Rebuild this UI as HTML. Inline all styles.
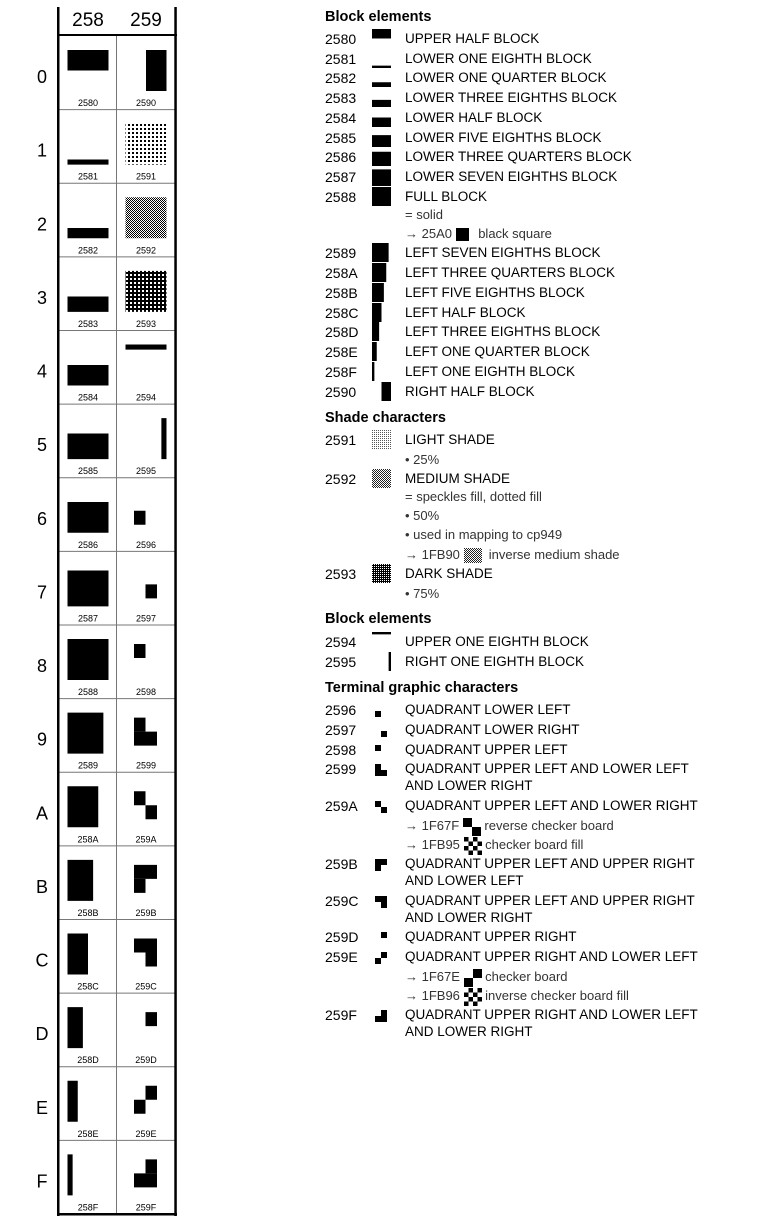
<!DOCTYPE html>
<html><head><meta charset="utf-8">
<style>
html,body{margin:0;padding:0;background:#fff;}
body{width:760px;height:1229px;position:relative;overflow:hidden;font-family:"Liberation Sans",Arial,sans-serif;color:#000;}
.t{position:absolute;white-space:nowrap;line-height:18px;height:18px;}
.code{font-size:14px;left:325px;}
.name{font-size:13.5px;left:405px;}
.sub{font-size:13px;left:405px;color:#333;}
.hd{font-size:14.5px;font-weight:bold;left:325px;}
.ib{display:inline-block;vertical-align:middle;margin:-5px 0 -5px 0;}
svg{position:absolute;left:0;top:0;}
</style></head>
<body>
<svg id="g" width="760" height="1229">
<defs>
<pattern id="p25" width="4" height="4" patternUnits="userSpaceOnUse"><rect width="2" height="2" fill="#000"/></pattern>
<pattern id="p50" width="2" height="2" patternUnits="userSpaceOnUse"><rect width="1" height="1" fill="#000"/><rect x="1" y="1" width="1" height="1" fill="#000"/></pattern>
<pattern id="p75" width="4" height="4" patternUnits="userSpaceOnUse"><rect width="4" height="4" fill="#000"/><rect x="2" y="2" width="2" height="2" fill="#fff"/></pattern>
<pattern id="s25" width="2" height="2" patternUnits="userSpaceOnUse"><rect width="1" height="1" fill="#555"/></pattern>
<pattern id="s50" width="2" height="2" patternUnits="userSpaceOnUse"><rect width="1" height="1" fill="#222"/><rect x="1" y="1" width="1" height="1" fill="#222"/></pattern>
<pattern id="s75" width="2" height="2" patternUnits="userSpaceOnUse"><rect width="2" height="2" fill="#000"/><rect width="1" height="1" fill="#fff"/></pattern>
</defs>
</svg>
<script>
const rowLabels=["0","1","2","3","4","5","6","7","8","9","A","B","C","D","E","F"];
const colLabels=["258","259"];
const UL=[0,0,4,4],UR=[4,0,8,4],LL=[0,4,4,8],LR=[4,4,8,8];
const glyphs={
"2580":[[0,0,8,4]],"2581":[[0,7,8,8]],"2582":[[0,6,8,8]],"2583":[[0,5,8,8]],"2584":[[0,4,8,8]],
"2585":[[0,3,8,8]],"2586":[[0,2,8,8]],"2587":[[0,1,8,8]],"2588":[[0,0,8,8]],"2589":[[0,0,7,8]],
"258A":[[0,0,6,8]],"258B":[[0,0,5,8]],"258C":[[0,0,4,8]],"258D":[[0,0,3,8]],"258E":[[0,0,2,8]],
"258F":[[0,0,1,8]],"2590":[[4,0,8,8]],"2594":[[0,0,8,1]],"2595":[[7,0,8,8]],
"2596":[LL],"2597":[LR],"2598":[UL],"2599":[UL,LL,LR],"259A":[UL,LR],"259B":[UL,UR,LL],
"259C":[UL,UR,LR],"259D":[UR],"259E":[UR,LL],"259F":[UR,LL,LR]};
const shades={"2591":"25","2592":"50","2593":"75"};
const NS="http://www.w3.org/2000/svg";
const svg=document.getElementById('g');
function R(x,y,w,h,fill,name){const r=document.createElementNS(NS,'rect');
r.setAttribute('x',x);r.setAttribute('y',y);r.setAttribute('width',w);r.setAttribute('height',h);r.setAttribute('fill',fill);


svg.appendChild(r);return r;}
function T(x,y,s,size,name){const t=document.createElementNS(NS,'text');
t.setAttribute('x',x);t.setAttribute('y',y);t.setAttribute('font-size',size);t.setAttribute('text-anchor','middle');
t.setAttribute('font-family','Liberation Sans, Arial, sans-serif');t.textContent=s;


svg.appendChild(t);}
function isQuad(c){return parseInt(c,16)>=0x2596;}
function drawGlyph(c,bx,by,bw,bh,qx,qy,qw,qh,pfx){
 if(shades[c]){R(bx,by,bw,bh,'url(#'+pfx+shades[c]+')','shade-'+c);return;}
 const q=isQuad(c);const X=q?qx:bx,Y=q?qy:by,W=q?qw:bw,H=q?qh:bh;
 glyphs[c].forEach(g=>R(X+g[0]*W/8,Y+g[1]*H/8,(g[2]-g[0])*W/8,(g[3]-g[1])*H/8,'#000','glyph-'+c));
}
const top0=36,rowH=(1214-36)/16,colX=[59,117];
for(let i=1;i<16;i++)R(59,top0+i*rowH-0.5,116,1,'#777','row-line');
R(116,36,1,1178,'#777','col-divider');
R(57,7,2.5,1209,'#000','left-border');
R(174.3,7,2.5,1209,'#000','right-border');
R(57,34,120,2,'#000','header-line');
R(57,1213,120,2.5,'#000','bottom-line');
colLabels.forEach((l,i)=>T(colX[i]+29,26,l,19,'column-header-'+l));
rowLabels.forEach((l,r)=>{
 const y=top0+r*rowH;
 T(42,y+47,l,18,'row-label-'+l);
 colLabels.forEach((cl,ci)=>{
  const code=cl+l,cx=colX[ci];
  drawGlyph(code,cx+8.5,y+14,41,41,cx+17,y+19,23,28,'p');
  T(cx+29,y+70,code,9,'cell-code-'+code);
 });
});
const lines=[
[17,"","hd","Block elements"],
[39,"2580","n","UPPER HALF BLOCK"],[59,"2581","n","LOWER ONE EIGHTH BLOCK"],[78,"2582","n","LOWER ONE QUARTER BLOCK"],
[98,"2583","n","LOWER THREE EIGHTHS BLOCK"],[118,"2584","n","LOWER HALF BLOCK"],[138,"2585","n","LOWER FIVE EIGHTHS BLOCK"],
[157,"2586","n","LOWER THREE QUARTERS BLOCK"],[177,"2587","n","LOWER SEVEN EIGHTHS BLOCK"],[197,"2588","n","FULL BLOCK"],
[215,"","s","= solid"],[234,"","s",'→ 25A0 <span class="ib" style="width:13px;height:13px;background:#000;margin:-3px 6px -3px 0"></span> black square'],
[253,"2589","n","LEFT SEVEN EIGHTHS BLOCK"],[273,"258A","n","LEFT THREE QUARTERS BLOCK"],[293,"258B","n","LEFT FIVE EIGHTHS BLOCK"],
[313,"258C","n","LEFT HALF BLOCK"],[332,"258D","n","LEFT THREE EIGHTHS BLOCK"],[352,"258E","n","LEFT ONE QUARTER BLOCK"],
[372,"258F","n","LEFT ONE EIGHTH BLOCK"],[392,"2590","n","RIGHT HALF BLOCK"],
[418,"","hd","Shade characters"],
[440,"2591","n","LIGHT SHADE"],[460,"","s","• 25%"],[479,"2592","n","MEDIUM SHADE"],
[497,"","s","= speckles fill, dotted fill"],[516,"","s","• 50%"],[535,"","s","• used in mapping to cp949"],
[555,"","s",'→ 1FB90 <svg class="ib" style="position:static" width="18" height="15"><rect width="18" height="15" fill="url(#s50)"/></svg> &nbsp;inverse medium shade'],
[574,"2593","n","DARK SHADE"],[594,"","s","• 75%"],
[619,"","hd","Block elements"],
[642,"2594","n","UPPER ONE EIGHTH BLOCK"],[662,"2595","n","RIGHT ONE EIGHTH BLOCK"],
[688,"","hd","Terminal graphic characters"],
[710,"2596","n","QUADRANT LOWER LEFT"],[730,"2597","n","QUADRANT LOWER RIGHT"],[750,"2598","n","QUADRANT UPPER LEFT"],
[769,"2599","n","QUADRANT UPPER LEFT AND LOWER LEFT"],[786,"","n","AND LOWER RIGHT"],
[806,"259A","n","QUADRANT UPPER LEFT AND LOWER RIGHT"],
[826,"","s",'→ 1F67F <svg class="ib" style="position:static" width="18" height="18"><rect width="9" height="9"/><rect x="9" y="9" width="9" height="9"/></svg> reverse checker board'],
[845,"","s",'→ 1FB95 <svg class="ib" style="position:static" width="18" height="18"><rect width="4.5" height="4.5"/><rect x="9" width="4.5" height="4.5"/><rect x="4.5" y="4.5" width="4.5" height="4.5"/><rect x="13.5" y="4.5" width="4.5" height="4.5"/><rect y="9" width="4.5" height="4.5"/><rect x="9" y="9" width="4.5" height="4.5"/><rect x="4.5" y="13.5" width="4.5" height="4.5"/><rect x="13.5" y="13.5" width="4.5" height="4.5"/></svg> checker board fill'],
[864,"259B","n","QUADRANT UPPER LEFT AND UPPER RIGHT"],[881,"","n","AND LOWER LEFT"],
[901,"259C","n","QUADRANT UPPER LEFT AND UPPER RIGHT"],[918,"","n","AND LOWER RIGHT"],
[937,"259D","n","QUADRANT UPPER RIGHT"],[957,"259E","n","QUADRANT UPPER RIGHT AND LOWER LEFT"],
[977,"","s",'→ 1F67E <svg class="ib" style="position:static" width="18" height="18"><rect x="9" width="9" height="9"/><rect y="9" width="9" height="9"/></svg> checker board'],
[996,"","s",'→ 1FB96 <svg class="ib" style="position:static" width="18" height="18"><rect x="4.5" width="4.5" height="4.5"/><rect x="13.5" width="4.5" height="4.5"/><rect y="4.5" width="4.5" height="4.5"/><rect x="9" y="4.5" width="4.5" height="4.5"/><rect x="4.5" y="9" width="4.5" height="4.5"/><rect x="13.5" y="9" width="4.5" height="4.5"/><rect y="13.5" width="4.5" height="4.5"/><rect x="9" y="13.5" width="4.5" height="4.5"/></svg> inverse checker board fill'],
[1015,"259F","n","QUADRANT UPPER RIGHT AND LOWER LEFT"],[1032,"","n","AND LOWER RIGHT"]];
lines.forEach(l=>{
 const [y,code,kind,text]=l;
 const d=document.createElement('div');
 d.className='t '+(kind==='hd'?'hd':kind==='n'?'name':'sub');
 d.style.top=(y-9)+'px';
 d.innerHTML=text;
 
 
 document.body.appendChild(d);
 if(code){
  const c=document.createElement('div');
  c.className='t code';c.style.top=(y-9)+'px';c.textContent=code;
  
  
  document.body.appendChild(c);
  drawGlyph(code,372,y-10,19,19,375,y-5,12,12,'s');
 }
});
</script>
</body></html>
